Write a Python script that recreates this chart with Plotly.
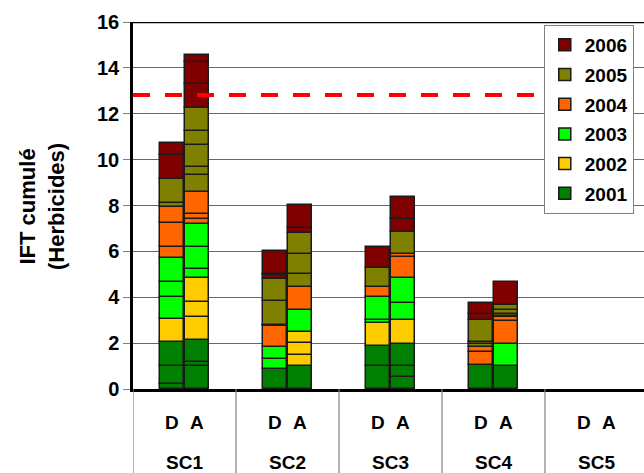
import plotly.graph_objects as go

years = ["2001", "2002", "2003", "2004", "2005", "2006"]
year_colors = ["#007F00", "#FFCC00", "#00FF00", "#FF6600", "#808000", "#800000"]
groups = ["SC1", "SC2", "SC3", "SC4", "SC5"]
bar_types = ["D", "A"]

# segment values per bar, one list per year (2001..2006), bottom to top
seg_SC1_D = [[0.22, 0.80, 1.01], [1.01], [0.96, 0.68, 1.02], [0.50, 1.02, 0.73], [0.17, 1.03], [1.04, 0.55]]
seg_SC1_A = [[1.02, 0.14, 0.98], [1.01, 0.66, 1.01], [0.40, 0.98, 0.99], [0.22, 0.20, 0.96],
             [0.74, 0.35, 0.99, 0.61, 1.00], [1.04, 0.94, 0.31]]
seg_SC2_D = [[0.89], [], [0.40, 0.53], [0.93], [0.05, 1.02, 0.99], [0.15, 0.06, 1.01]]
seg_SC2_A = [[1.02], [0.46, 0.54, 0.45], [0.97], [1.02], [0.54, 0.87, 0.95], [0.18, 1.02]]
seg_SC3_D = [[1.00, 0.87], [0.99], [0.15, 1.01], [0.44], [0.80], [0.94]]
seg_SC3_A = [[0.51, 0.49, 0.96], [1.05], [0.75, 1.06], [0.95, 0.10], [0.99], [0.54, 0.95]]
seg_SC4_D = [[1.05], [], [], [0.58, 0.21], [0.11, 0.08, 0.98], [0.26, 0.46]]
seg_SC4_A = [[1.00], [], [0.96], [1.02, 0.14], [0.08, 0.07, 0.17, 0.22], [1.02]]
seg_SC5_D = [[], [], [], [], [], []]
seg_SC5_A = [[], [], [], [], [], []]

reference_level = 12.82

bars = {
    ("SC1", "D"): seg_SC1_D, ("SC1", "A"): seg_SC1_A,
    ("SC2", "D"): seg_SC2_D, ("SC2", "A"): seg_SC2_A,
    ("SC3", "D"): seg_SC3_D, ("SC3", "A"): seg_SC3_A,
    ("SC4", "D"): seg_SC4_D, ("SC4", "A"): seg_SC4_A,
    ("SC5", "D"): seg_SC5_D, ("SC5", "A"): seg_SC5_A,
}

offset = 0.126
bar_w = 0.233

# build one trace per year
trace_data = {y: {"x": [], "y": [], "base": []} for y in years}
for gi, g in enumerate(groups):
    for bt in bar_types:
        xpos = gi + 0.5 + (-offset if bt == "D" else offset)
        cum = 0.0
        for yi, yr in enumerate(years):
            for v in bars[(g, bt)][yi]:
                trace_data[yr]["x"].append(xpos)
                trace_data[yr]["y"].append(v)
                trace_data[yr]["base"].append(cum)
                cum += v

fig = go.Figure()
for i, (yr, col) in enumerate(zip(years, year_colors)):
    d = trace_data[yr]
    fig.add_trace(go.Bar(
        x=d["x"], y=d["y"], base=d["base"], name="<b>%s</b>" % yr, width=bar_w,
        marker=dict(color=col, line=dict(color="#1a1a1a", width=1.5)),
        legendgroup=yr, legendrank=len(years) - i,
    ))

FONT = "Arial, Liberation Sans, sans-serif"

shapes = []
# reference dashed line
shapes.append(dict(type="line", xref="paper", yref="y", x0=0, x1=1, y0=reference_level, y1=reference_level,
                   line=dict(color="#FF0000", width=4, dash="17px,15px"), layer="above"))
# top border
shapes.append(dict(type="line", xref="paper", yref="y", x0=0, x1=1, y0=16, y1=16,
                   line=dict(color="black", width=2.5)))
# category separators below axis
for i in range(len(groups)):
    shapes.append(dict(type="line", xref="x", yref="paper", x0=i, x1=i, y0=0, y1=-0.3,
                       line=dict(color="#808080", width=1.2)))

annotations = []
for gi, g in enumerate(groups):
    for bt, dx in (("D", -offset), ("A", offset)):
        annotations.append(dict(x=gi + 0.5 + dx, y=-0.09, xref="x", yref="paper", text="<b>%s</b>" % bt,
                                showarrow=False, font=dict(family=FONT, size=19, color="black"),
                                xanchor="center", yanchor="middle"))
    annotations.append(dict(x=gi + 0.5, y=-0.200, xref="x", yref="paper", text="<b>%s</b>" % g,
                            showarrow=False, font=dict(family=FONT, size=19, color="black"),
                            xanchor="center", yanchor="middle"))
annotations.append(dict(x=-0.178, y=0.496, xref="paper", yref="paper",
                        text="<b>IFT cumulé<br>(Herbicides)</b>", textangle=-90, showarrow=False,
                        font=dict(family=FONT, size=22, color="black"), xanchor="center", yanchor="middle"))

fig.update_layout(
    width=644, height=473,
    margin=dict(l=133, r=0, t=22, b=84, autoexpand=False),
    paper_bgcolor="white", plot_bgcolor="white",
    barmode="overlay",
    bargap=0,
    font=dict(family=FONT, color="black"),
    xaxis=dict(range=[0, 511 / 103], showticklabels=False, showgrid=False, zeroline=False,
               showline=True, linecolor="black", linewidth=3, ticks=""),
    yaxis=dict(range=[0, 16], dtick=2, tick0=0, showgrid=True, gridcolor="#666666", gridwidth=1,
               zeroline=False, showline=True, linecolor="black", linewidth=2.5,
               ticks="outside", ticklen=7, tickcolor="#808080", tickwidth=1,
               tickfont=dict(family=FONT, size=20, color="black"), tickprefix="<b>", ticksuffix="</b>"),
    legend=dict(x=0.98, y=0.992, xanchor="right", yanchor="top",
                bgcolor="white", bordercolor="#808080", borderwidth=1,
                font=dict(family=FONT, size=19, color="black"),
                tracegroupgap=2, itemwidth=30),
    shapes=shapes,
    annotations=annotations,
    showlegend=True,
)

fig.write_html("out.html", config={"displayModeBar": False},
               post_script="document.body.style.margin='0';document.body.style.overflow='hidden';")
